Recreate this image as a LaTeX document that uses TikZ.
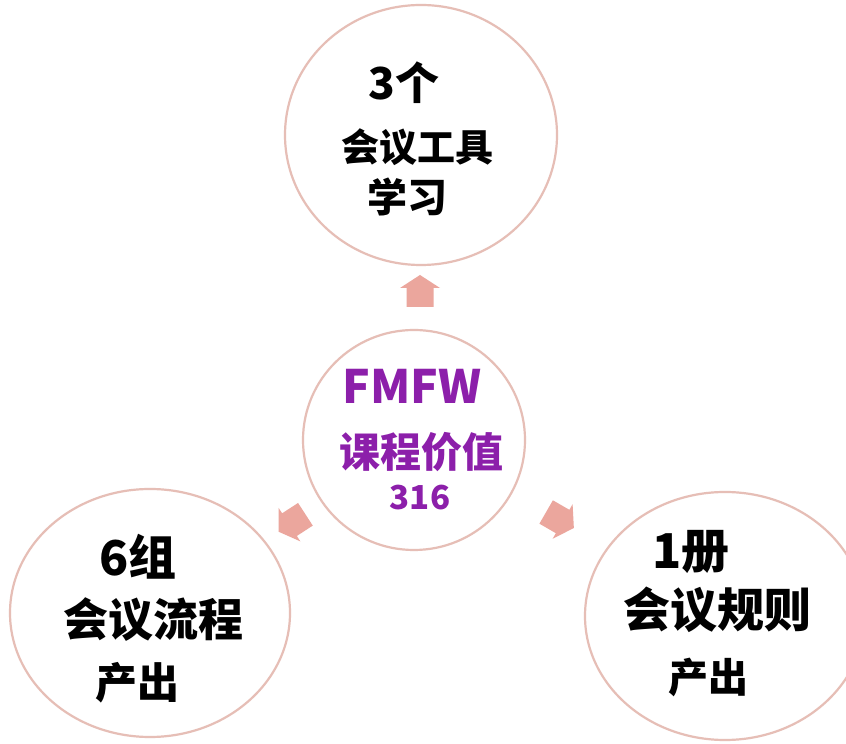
\documentclass[tikz,border=0pt]{standalone}
\usepackage{fontspec}
\newfontfamily\cjk{Noto Sans CJK SC}
\usetikzlibrary{shapes.geometric}
\definecolor{ring}{HTML}{E6BEB6}
\definecolor{arrowpink}{HTML}{EBA69D}
\definecolor{fmpurple}{HTML}{8C1FAA}
\tikzset{
  ringnode/.style={ellipse, draw=ring, line width=2.2pt, fill=white, inner sep=0pt},
  blacktxt/.style={font=\cjk\bfseries, text=black, inner sep=0pt},
  purpletxt/.style={font=\cjk\bfseries, text=fmpurple, inner sep=0pt},
  blockarrow/.style={fill=arrowpink, draw=none}
}
\newcommand{\blockarr}[3]{%
  \begin{scope}[shift={(#1,#2)}, rotate=#3]
    \fill[blockarrow] (-16,-13.5) -- (3,-13.5) -- (3,-20) -- (16,0) -- (3,20) -- (3,13.5) -- (-16,13.5) -- cycle;
  \end{scope}}
\begin{document}
\begin{tikzpicture}[x=1pt,y=1pt]
\useasboundingbox (0,0) rectangle (846,744);
\fill[white] (0,0) rectangle (846,744);
% circles
\node[ringnode, minimum width=272pt, minimum height=260pt] (top) at (421,609) {};
\node[ringnode, minimum width=222pt, minimum height=220pt] (mid) at (414,304) {};
\node[ringnode, minimum width=280pt, minimum height=248pt] (bl) at (150,131) {};
\node[ringnode, minimum width=280pt, minimum height=248pt] (br) at (725,128) {};
% arrows
\blockarr{420}{453}{90}
\blockarr{292}{221}{213}
\blockarr{560}{224}{-30}
% top text
\node[blacktxt, font=\cjk\bfseries\fontsize{44}{44}\selectfont] (t1) at (404,661) {3个};
\node[blacktxt, font=\cjk\bfseries\fontsize{38}{38}\selectfont] (t2) at (417,597) {会议工具};
\node[blacktxt, font=\cjk\bfseries\fontsize{40}{40}\selectfont] (t3) at (407,547) {学习};
% center text
\node[purpletxt, font=\cjk\bfseries\fontsize{46}{46}\selectfont] (m1) at (412,358) {FMFW};
\node[purpletxt, font=\cjk\bfseries\fontsize{41}{41}\selectfont] (m2) at (421,292) {课程价值};
\node[purpletxt, font=\cjk\bfseries\fontsize{33}{33}\selectfont] (m3) at (420,246) {316};
% bottom-left text
\node[blacktxt, font=\cjk\bfseries\fontsize{48}{48}\selectfont] (l1) at (138,187) {6组};
\node[blacktxt, font=\cjk\bfseries\fontsize{45}{45}\selectfont] (l2) at (153,124) {会议流程};
\node[blacktxt, font=\cjk\bfseries\fontsize{42}{42}\selectfont] (l3) at (137,61) {产出};
% bottom-right text
\node[blacktxt, font=\cjk\bfseries\fontsize{48}{48}\selectfont] (r1) at (691,192) {1册};
\node[blacktxt, font=\cjk\bfseries\fontsize{47}{47}\selectfont] (r2) at (717,134) {会议规则};
\node[blacktxt, font=\cjk\bfseries\fontsize{40}{40}\selectfont] (r3) at (708,67) {产出};
\end{tikzpicture}
\end{document}
